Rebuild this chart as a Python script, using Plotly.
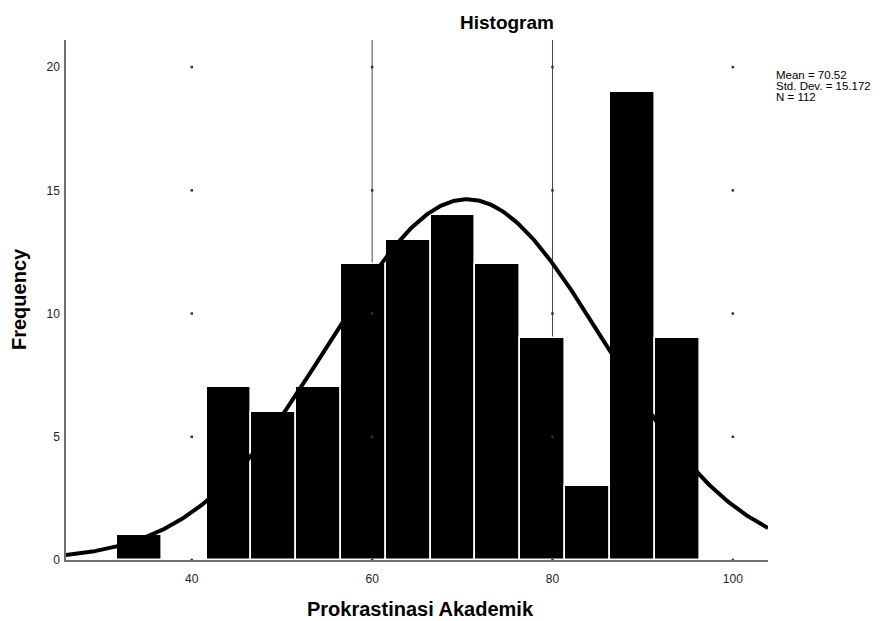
import numpy as np
import plotly.graph_objects as go

# ---- data ----
bin_start = 31.7
bin_width = 4.97
frequencies = [1, 0, 7, 6, 7, 12, 13, 14, 12, 9, 3, 19, 9]
mean_val = 70.52
std_dev = 15.172
n_obs = 112
x_ticks = [40, 60, 80, 100]
y_ticks = [0, 5, 10, 15, 20]
ref_lines_x = [60, 80]
x_range = [26.05, 103.9]
y_range = [0, 21.1]
stats_lines = [f"Mean = {mean_val}", f"Std. Dev. = {std_dev}", f"N = {n_obs}"]

centers = [bin_start + bin_width * (i + 0.5) for i in range(len(frequencies))]

fig = go.Figure()

# grid dots at tick intersections
dot_x, dot_y = [], []
for xv in x_ticks:
    for yv in y_ticks:
        dot_x.append(xv)
        dot_y.append(yv)
fig.add_trace(go.Scatter(x=dot_x, y=dot_y, mode="markers",
                         marker=dict(symbol="square", size=2.5, color="#333333"),
                         hoverinfo="skip", showlegend=False, cliponaxis=False))

fig.add_trace(go.Bar(x=centers, y=frequencies, width=bin_width,
                     marker=dict(color="black", line=dict(color="white", width=1.6)),
                     showlegend=False))

# normal curve from the stated statistics
xs = np.linspace(x_range[0], x_range[1], 400)
ys = n_obs * bin_width / (std_dev * np.sqrt(2 * np.pi)) * np.exp(-0.5 * ((xs - mean_val) / std_dev) ** 2)
fig.add_trace(go.Scatter(x=xs, y=ys, mode="lines", line=dict(color="black", width=4),
                         hoverinfo="skip", showlegend=False))

for xv in ref_lines_x:
    fig.add_shape(type="line", x0=xv, x1=xv, y0=0, y1=1, xref="x", yref="paper",
                  line=dict(color="#444444", width=1), layer="below")

L, R, T, B = 66, 768, 40, 560
W, H = 888, 621


def px(x):
    return (x - L) / (R - L)


def py(y):
    return (B - y) / (B - T)


annotations = [
    dict(text="<b>Histogram</b>", x=px(507), y=py(23), xref="paper", yref="paper",
         showarrow=False, xanchor="center", yanchor="middle",
         font=dict(size=19, color="black")),
    dict(text="<b>Frequency</b>", x=px(19), y=py(299), xref="paper", yref="paper",
         showarrow=False, xanchor="center", yanchor="middle", textangle=-90,
         font=dict(size=20, color="black")),
    dict(text="<b>Prokrastinasi Akademik</b>", x=px(420), y=py(609), xref="paper", yref="paper",
         showarrow=False, xanchor="center", yanchor="middle",
         font=dict(size=20, color="black")),
]
for i, line in enumerate(stats_lines):
    annotations.append(dict(text=line, x=px(775), y=py(75 + 11 * i), xref="paper", yref="paper",
                            showarrow=False, xanchor="left", yanchor="middle", align="left",
                            borderpad=0,
                            font=dict(size=11.5, color="black")))

fig.update_layout(
    width=W, height=H,
    margin=dict(l=L, r=W - R, t=T, b=H - B),
    paper_bgcolor="white", plot_bgcolor="white",
    bargap=0,
    font=dict(family="Liberation Sans, Arial, sans-serif", color="#222222", size=12),
    xaxis=dict(range=x_range, tickvals=x_ticks, showgrid=False, zeroline=False,
               showline=True, linecolor="#6e6e6e", linewidth=1.5, ticks="",
               ticklabelstandoff=7, tickfont=dict(size=12)),
    yaxis=dict(range=y_range, tickvals=y_ticks, showgrid=False, zeroline=False,
               showline=True, linecolor="#6e6e6e", linewidth=1.5, ticks="",
               ticklabelstandoff=2, tickfont=dict(size=12)),
    annotations=annotations,
)

fig.write_html("out.html", config={"displayModeBar": False},
               post_script="document.body.style.margin='0px';document.body.style.padding='0px';")
